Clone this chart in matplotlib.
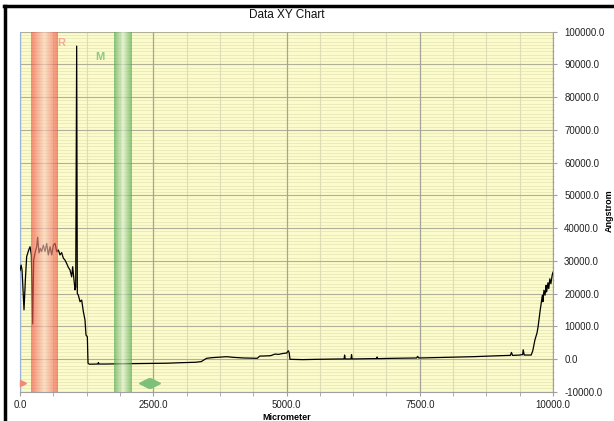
import matplotlib
matplotlib.use("Agg")
import matplotlib.pyplot as plt
import numpy as np
from matplotlib.colors import LinearSegmentedColormap
from matplotlib.lines import Line2D
from matplotlib.ticker import MultipleLocator, FormatStrFormatter

plt.rcParams['font.family'] = ['Liberation Sans', 'DejaVu Sans']

# ==========================================
# DATA
# ==========================================

x_um = [
    0, 20, 38, 75, 100, 125, 163, 188, 213, 238, 256, 288, 313, 331, 356,
    381, 406, 438, 469, 500, 531, 563, 594, 625, 657, 688, 719, 750, 781,
    813, 844, 875, 906, 938, 969, 988, 1013, 1032, 1045, 1063, 1075, 1094,
    1126, 1157, 1188, 1219, 1238, 1263, 1276, 1300, 1460, 1470, 1480, 1600,
    2000, 2500, 2750, 3000, 3300, 3400, 3500, 3600, 3877, 4000, 4200, 4450,
    4500, 4560, 4700, 4785, 4850, 4940, 5000, 5035, 5050, 5065, 5300, 5600,
    6000, 6080, 6090, 6100, 6210, 6220, 6230, 6600, 6690, 6700, 6710, 7000,
    7440, 7460, 7480, 8000, 8500, 9000, 9200, 9220, 9240, 9380, 9400, 9430,
    9440, 9460, 9590, 9620, 9660, 9700, 9720, 9760, 9800, 9810, 9830, 9850,
    9870, 9880, 9905, 9920, 9940, 9960, 9985, 10000,
]

y_ang = [
    27000, 28700, 27200, 15000, 24100, 31300, 33300, 34300, 31800, 10700,
    30200, 32800, 34300, 37200, 32400, 33800, 32800, 34800, 32800, 35300,
    31800, 34300, 31800, 34800, 35300, 32800, 33300, 31800, 32500, 30800,
    30200, 29200, 28000, 27200, 25100, 28200, 24100, 21100, 22000, 95600,
    20000, 19500, 17500, 18000, 14500, 11900, 7300, 6800, -1300, -1600,
    -1550, -1100, -1550, -1550, -1450, -1350, -1300, -1150, -1000, -800,
    200, 400, 700, 500, 300, 200, 900, 900, 1000, 1500, 1400, 1700, 1800,
    2500, 1900, -100, -200, -100, 0, 0, 1200, 0, 0, 1300, 0, 100, 100, 600,
    100, 200, 300, 800, 300, 500, 700, 1000, 1100, 2000, 1100, 1200, 1300,
    1300, 2800, 1200, 1200, 2500, 5800, 8000, 9900, 15000, 19500, 17500,
    21000, 19500, 22500, 20500, 23300, 21500, 24500, 23000, 25700, 26500,
]

x_ticks = [0, 2500, 5000, 7500, 10000]
y_ticks = [-10000, 0, 10000, 20000, 30000, 40000, 50000, 60000, 70000,
           80000, 90000, 100000]

r_band = (205, 695)
m_band = (1765, 2085)

# ==========================================
# FIGURE
# ==========================================

fig = plt.figure(figsize=(6.14, 4.21), dpi=100)
fig.patch.set_facecolor('white')

ax = fig.add_axes([0.0326, 0.0696, 0.8681, 0.8551])
ax.set_facecolor('#fbfbcb')

# GRID (drawn by hand so the layering is right)
for yv in range(-10000, 100001, 1000):
    if yv % 10000:
        ax.axhline(yv, color='#e8e7b8', linewidth=0.6, zorder=0.6)
for xv in range(0, 10001, 625):
    if xv % 2500:
        ax.axvline(xv, color='#dcdcb6', linewidth=0.8, zorder=0.7)
for yv in y_ticks:
    ax.axhline(yv, color='#b0b09a', linewidth=0.8, zorder=0.8)
for xv in x_ticks:
    ax.axvline(xv, color='#a4a498', linewidth=0.9, zorder=0.9)

# PROFILE LINE
ax.plot(x_um, y_ang, color='black', linewidth=0.9, zorder=3)

# BANDS (gradient, drawn over the line)
def band(x0, x1, edge, center):
    cmap = LinearSegmentedColormap.from_list('b', [edge, center, edge])
    grad = np.linspace(0, 1, 64).reshape(1, -1)
    ax.imshow(grad, cmap=cmap, aspect='auto', extent=[x0, x1, -10000, 100000],
              alpha=0.65, zorder=4, interpolation='bicubic')

band(r_band[0], r_band[1], '#f0503f', '#fbd2c0')
band(m_band[0], m_band[1], '#4aa548', '#e0f0d0')
ax.set_xlim(0, 10000)
ax.set_ylim(-10000, 100000)

ax.text(770, 96500, 'R', color='#f4a898', fontsize=8, fontweight='bold',
        ha='center', va='center', zorder=5)
ax.text(1500, 92200, 'M', color='#8cc88a', fontsize=8, fontweight='bold',
        ha='center', va='center', zorder=5)

# CURSOR MARKERS
ax.plot([60], [-7300], marker='>', color='#f08a7a', markersize=5,
        clip_on=False, zorder=5)
ax.plot([2330], [-7300], marker='<', color='#7cc07a', markersize=7, zorder=5)
ax.plot([2530], [-7300], marker='>', color='#7cc07a', markersize=7, zorder=5)

# SPINES / TICKS
ax.spines['top'].set_visible(False)
ax.spines['left'].set_color('#9ab0d8')
ax.spines['bottom'].set_color('#a0a0a0')
ax.spines['right'].set_color('#a0a0a0')

ax.xaxis.set_minor_locator(MultipleLocator(625))
ax.yaxis.set_minor_locator(MultipleLocator(2000))
ax.set_xticks(x_ticks)
ax.set_yticks(y_ticks)
ax.xaxis.set_major_formatter(FormatStrFormatter('%.1f'))
ax.yaxis.set_major_formatter(FormatStrFormatter('%.1f'))
ax.yaxis.tick_right()
ax.tick_params(axis='both', which='major', labelsize=7, colors='#a0a0a0',
               labelcolor='#222222', length=3, width=0.8)
ax.tick_params(axis='x', which='minor', length=3, colors='#a0a0a0')
ax.tick_params(axis='y', which='minor', length=2, colors='#c0c0c0',
               direction='inout')
ax.tick_params(axis='y', which='major', pad=5)
ax.tick_params(axis='x', which='major', pad=3)

# TEXTS
fig.text(0.467, 0.965, 'Data XY Chart', fontsize=8.5, ha='center',
         va='center', color='#111111')
fig.text(0.467, 0.008, 'Micrometer', fontsize=6.5, fontweight='bold',
         ha='center', va='center')
fig.text(0.993, 0.50, 'Angstrom', fontsize=6.5, fontweight='bold',
         ha='center', va='center', rotation=90)

# BLACK FRAME (left and top)
fig.add_artist(Line2D([0.008, 0.008], [0, 0.986], color='black',
                      linewidth=2.5, transform=fig.transFigure))
fig.add_artist(Line2D([0.006, 1.0], [0.986, 0.986], color='black',
                      linewidth=2.5, transform=fig.transFigure))

fig.savefig('out.png', dpi=100)
